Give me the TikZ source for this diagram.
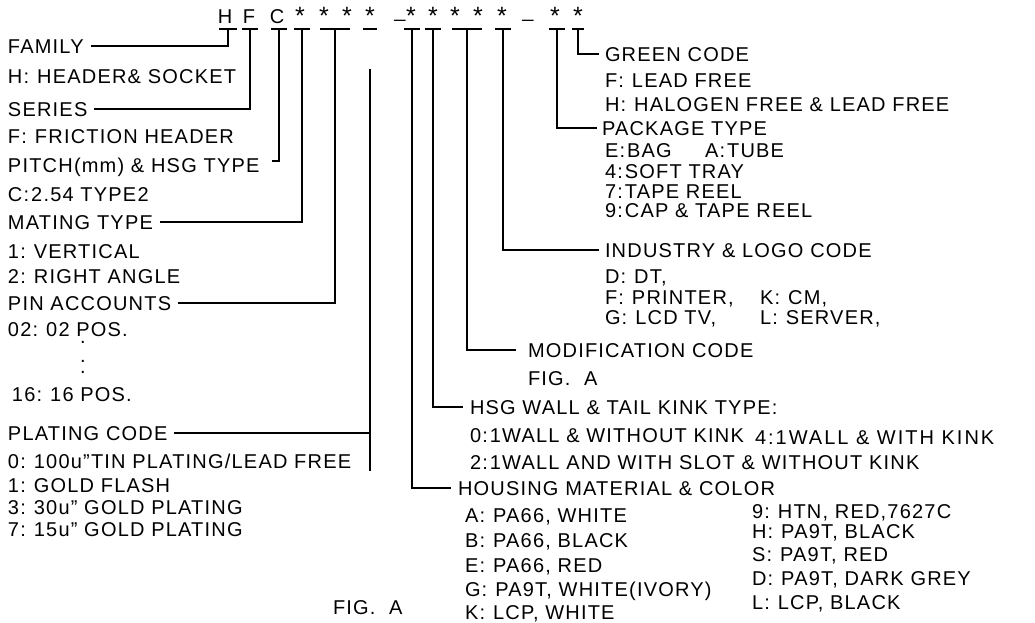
\documentclass[tikz,border=0pt]{standalone}
\usepackage{fontspec}
\setmainfont[LetterSpace=6]{Liberation Sans}
\newfontfamily\widefont[LetterSpace=10]{Liberation Sans}
\newcommand\fsz{\fontsize{20}{20}\selectfont}
\newcommand\gp{\hspace{8pt}}
\newcommand\ngp{\hspace{2pt}}
\begin{document}
\begin{tikzpicture}[x=1pt,y=-1pt,
  lbl/.style={anchor=west,inner sep=0pt,outer sep=0pt,text height=14pt,text depth=0pt,font=\fsz},
  hd/.style={inner sep=0pt,outer sep=0pt,text height=14pt,text depth=0pt,font=\fsz},
  st/.style={inner sep=0pt,outer sep=0pt,text height=10pt,text depth=0pt,font=\fontsize{25}{25}\selectfont},
  ln/.style={line width=1.2pt,black},
]
\useasboundingbox (0,0) rectangle (1035,622);
% ---------------- header code ----------------
\node[hd] (c1)  at (225,16) {H};
\node[hd] (c2)  at (249,16) {F};
\node[hd] (c3)  at (277,16) {C};
\node[st] (c4)  at (300,19) {*};
\node[st] (c5)  at (324,19) {*};
\node[st] (c6)  at (347,19) {*};
\node[st] (c7)  at (370,19) {*};
\node[hd] (c8)  at (400,16) {\raisebox{6pt}{\_}};
\node[st] (c9)  at (411,19) {*};
\node[st] (c10) at (433,19) {*};
\node[st] (c11) at (455,19) {*};
\node[st] (c12) at (478,19) {*};
\node[st] (c13) at (502,19) {*};
\node[hd] (c14) at (528,16) {\raisebox{6pt}{\_}};
\node[st] (c15) at (555,19) {*};
\node[st] (c16) at (578,19) {*};
% tick tops
\coordinate (tH)   at (228,29);
\coordinate (tF)   at (250,29);
\coordinate (tC)   at (279,29);
\coordinate (tM)   at (302,29);
\coordinate (tP)   at (335,29);
\coordinate (tD)   at (370,29);
\coordinate (tHM)  at (412,29);
\coordinate (tW)   at (433,29);
\coordinate (tMod) at (467,29);
\coordinate (tI)   at (503,29);
\coordinate (tPk)  at (557,29);
\coordinate (tG)   at (578,29);
\foreach \c/\w in {tH/9,tF/8,tC/8,tM/8,tP/15,tD/7,tHM/8,tW/8,tMod/15,tI/8,tPk/8,tG/6}
  \draw[ln] ([xshift=-\w pt]\c) -- ([xshift=\w pt]\c);
% ---------------- left labels ----------------
\node[lbl] (family) at (8,46) {FAMILY};
\node[lbl] (famv) at (8,76) {H:\gp HEADER\& SOCKET};
\node[lbl] (series) at (8,109) {SERIES};
\node[lbl] (serv) at (8,136) {F:\gp FRICTION HEADER};
\node[lbl] (pitch) at (8,165) {PITCH(mm) \& HSG TYPE};
\node[lbl] (pitv) at (8,194) {C:\ngp 2.54 TYPE2};
\node[lbl] (mating) at (8,222) {MATING TYPE};
\node[lbl] (mat1) at (8,251) {1:\gp VERTICAL};
\node[lbl] (mat2) at (8,276) {2:\gp RIGHT ANGLE};
\node[lbl] (pin) at (8,303) {PIN ACCOUNTS};
\node[lbl] (pin1) at (8,329) {02:\gp 02 POS.};
\node[inner sep=0pt,outer sep=0pt,anchor=north] (dots) at (83,341)
  {\parbox{8pt}{\centering\fontsize{20}{19}\selectfont .\\ .\\[-8pt] .}};
\node[lbl] (pin2) at (12,394) {16:\gp 16 POS.};
\node[lbl] (plating) at (8,433) {PLATING CODE};
\node[lbl] (pl0) at (8,461) {0:\gp 100u"TIN PLATING/LEAD FREE};
\node[lbl] (pl1) at (8,485) {1:\gp GOLD FLASH};
\node[lbl] (pl3) at (8,507) {3:\gp 30u" GOLD PLATING};
\node[lbl] (pl7) at (8,529) {7:\gp 15u" GOLD PLATING};
\node[lbl] (figa) at (333,607) {FIG.\ \ A};
% ---------------- right labels ----------------
\node[lbl] (green) at (605,54) {GREEN CODE};
\node[lbl] (gr1) at (605,80) {F:\gp LEAD FREE};
\node[lbl] (gr2) at (605,104) {H:\gp HALOGEN FREE \& LEAD FREE};
\node[lbl] (package) at (602,128) {PACKAGE TYPE};
\node[lbl] (pk1) at (605,150) {E:\ngp BAG};
\node[lbl] (pk2) at (705,150) {A:\ngp TUBE};
\node[lbl] (pk3) at (605,171) {4:\ngp SOFT TRAY};
\node[lbl] (pk4) at (605,191) {7:\ngp TAPE REEL};
\node[lbl] (pk5) at (605,210) {9:\ngp CAP \& TAPE REEL};
\node[lbl] (industry) at (605,250) {INDUSTRY \& LOGO CODE};
\node[lbl] (in1) at (605,276) {D:\gp DT,};
\node[lbl] (in2) at (605,297) {F:\gp PRINTER,};
\node[lbl] (in3) at (760,297) {K:\gp CM,};
\node[lbl] (in4) at (605,317) {G:\gp LCD TV,};
\node[lbl] (in5) at (760,317) {L:\gp SERVER,};
\node[lbl] (modif) at (528,350) {MODIFICATION CODE};
\node[lbl] (modv) at (528,378) {FIG.\ \ A};
\node[lbl] (hsg) at (470,407) {HSG WALL \& TAIL KINK TYPE:};
\node[lbl] (hs1) at (470,435) {0:\ngp 1WALL \& WITHOUT KINK};
\node[lbl] (hs2) at (755,437) {\widefont 4:\ngp 1WALL \& WITH KINK};
\node[lbl] (hs3) at (470,462) {2:\ngp 1WALL AND WITH SLOT \& WITHOUT KINK};
\node[lbl] (housing) at (458,488) {HOUSING MATERIAL \& COLOR};
\node[lbl] (ho1) at (465,515) {A:\gp PA66, WHITE};
\node[lbl] (ho2) at (465,540) {B:\gp PA66, BLACK};
\node[lbl] (ho3) at (465,565) {E:\gp PA66, RED};
\node[lbl] (ho4) at (465,589) {G:\gp PA9T, WHITE(IVORY)};
\node[lbl] (ho5) at (465,612) {K:\gp LCP, WHITE};
\node[lbl] (ho6) at (752,511) {9:\gp HTN, RED,7627C};
\node[lbl] (ho7) at (752,531) {H:\gp PA9T, BLACK};
\node[lbl] (ho8) at (752,554) {S:\gp PA9T, RED};
\node[lbl] (ho9) at (752,578) {D:\gp PA9T, DARK GREY};
\node[lbl] (ho10) at (752,602) {L:\gp LCP, BLACK};
% ---------------- connectors ----------------
\coordinate (cPitch) at (272,161);
\coordinate (pTop) at (370,69);
\coordinate (pBot) at (370,471);
\draw[ln] (tH) |- ([xshift=7pt]family.east);
\draw[ln] (tF) |- ([xshift=7pt]series.east);
\draw[ln] (tC) |- (cPitch);
\draw[ln] (tM) |- ([xshift=7pt]mating.east);
\draw[ln] (tP) |- ([xshift=7pt]pin.east);
\draw[ln] (pTop) -- (pBot);
\draw[ln] ([xshift=7pt]plating.east) -- (plating.east -| pTop);
\draw[ln] (tHM) |- ([xshift=-7pt]housing.west);
\draw[ln] (tW) |- ([xshift=-7pt]hsg.west);
\draw[ln] (tMod) |- ([xshift=-12pt]modif.west);
\draw[ln] (tI) |- ([xshift=-6pt]industry.west);
\draw[ln] (tPk) |- ([xshift=-5pt]package.west);
\draw[ln] (tG) |- ([xshift=-6pt]green.west);
\end{tikzpicture}
\end{document}
